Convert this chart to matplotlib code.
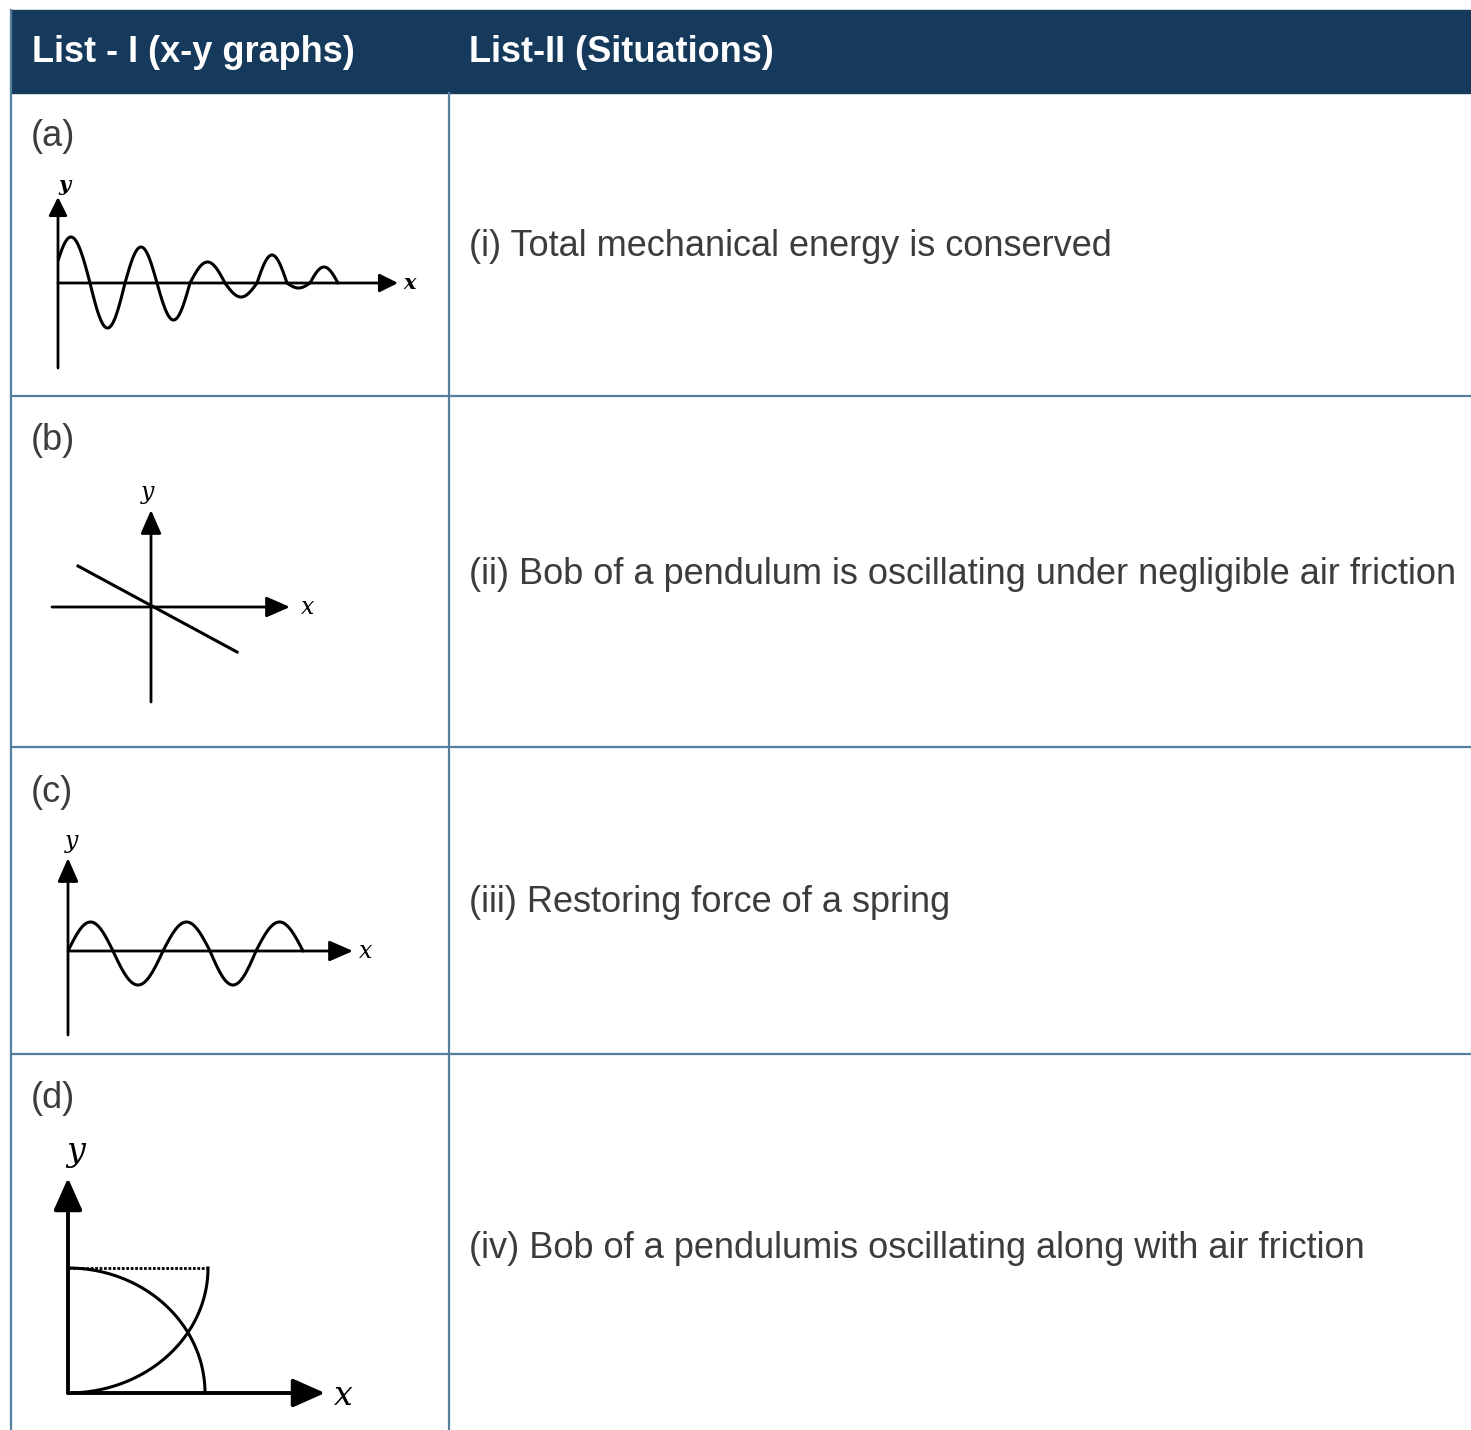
import numpy as np
import matplotlib
matplotlib.use('Agg')
import matplotlib.pyplot as plt
from matplotlib.patches import Rectangle

W, H = 1471, 1430

# table text
header_left = 'List - I (x-y graphs)'
header_right = 'List-II (Situations)'
row_labels = ['(a)', '(b)', '(c)', '(d)']
situations = [
    '(i) Total mechanical energy is conserved',
    '(ii) Bob of a pendulum is oscillating under negligible air friction',
    '(iii) Restoring force of a spring',
    '(iv) Bob of a pendulumis oscillating along with air friction',
]

# (a) damped oscillation: zero crossings and half-cycle peaks (units of 10 px)
a_cross = [-0.6, 3.2, 6.7, 9.9, 13.2, 16.7, 19.9, 22.9, 25.2, 28.0]
a_amp = [4.6, -4.5, 3.6, -3.7, 2.1, -1.4, 2.8, -0.5, 1.6]
# (b) straight line through origin
b_x = [-7.3, 8.6]
b_y = [4.1, -4.5]
# (c) undamped oscillation
c_cross = [0.0, 4.5, 9.5, 14.2, 18.8, 23.5]
c_amp = [2.9, -3.4, 2.9, -3.4, 2.9]
# (d) two quarter curves and the dotted level
d_level = 12.5
d_xfall = 13.7
d_xrise = 14.0

line_col = '#557f9f'
text_col = '#3c3c3c'
navy = '#163a5c'

fig = plt.figure(figsize=(W / 100, H / 100), dpi=100)
fig.patch.set_facecolor('white')
main = fig.add_axes([0, 0, 1, 1])
main.set_xlim(0, W)
main.set_ylim(H, 0)
main.axis('off')

# header band
main.add_patch(Rectangle((11, 10), W - 11, 83, color=navy, zorder=1))
main.text(32, 52, header_left, color='white', fontsize=26, fontweight='bold',
          family='Liberation Sans', va='center', ha='left')
main.text(469, 52, header_right, color='white', fontsize=26, fontweight='bold',
          family='Liberation Sans', va='center', ha='left')

# grid lines
row_edges = [93, 396, 747, 1054]
for y in row_edges[1:]:
    main.plot([11, W], [y, y], color=line_col, lw=1.6, zorder=2)
main.plot([11, 11], [10, H], color=line_col, lw=1.6, zorder=2)
main.plot([449, 449], [93, H], color=line_col, lw=1.6, zorder=2)

label_y = [137, 440, 792, 1099]
text_y = [247, 575, 903, 1249]
for lab, ly, sit, ty in zip(row_labels, label_y, situations, text_y):
    main.text(31, ly, lab, color=text_col, fontsize=26, family='Liberation Sans',
              va='center', ha='left')
    main.text(469, ty, sit, color=text_col, fontsize=26, family='Liberation Sans',
              va='center', ha='left')


def px_axes(left, top, right, bottom):
    ax = fig.add_axes([left / W, 1 - bottom / H, (right - left) / W, (bottom - top) / H])
    ax.axis('off')
    return ax


def draw_axes(ax, xl, yl, hx, hy, ms, lw=2.0):
    style = '-|>,head_length=%.2f,head_width=%.2f' % (hx, hy)
    props = dict(arrowstyle=style, lw=lw, color='black', shrinkA=0, shrinkB=0,
                 mutation_scale=ms)
    ax.annotate('', xy=(xl[1], 0), xytext=(xl[0], 0), arrowprops=props,
                annotation_clip=False)
    ax.annotate('', xy=(0, yl[1]), xytext=(0, yl[0]), arrowprops=props,
                annotation_clip=False)


def axis_names(ax, xpos, ypos, fs, weight='normal'):
    ax.text(xpos[0], xpos[1], 'x', fontsize=fs, style='italic', family='DejaVu Serif',
            ha='left', va='center', fontweight=weight)
    ax.text(ypos[0], ypos[1], 'y', fontsize=fs, style='italic', family='DejaVu Serif',
            ha='center', va='bottom', fontweight=weight)


def half_cycles(ax, cross, amp, xmin=None):
    for i, a in enumerate(amp):
        x = np.linspace(cross[i], cross[i + 1], 60)
        y = a * np.sin(np.pi * (x - cross[i]) / (cross[i + 1] - cross[i]))
        if xmin is not None:
            keep = x >= xmin
            x, y = x[keep], y[keep]
        ax.plot(x, y, color='black', lw=2.2, solid_capstyle='round')


# (a)
xl, yl = (0, 34.0), (-8.5, 8.6)
ax = px_axes(58, 197, 398, 368)
ax.set_xlim(*xl)
ax.set_ylim(*yl)
half_cycles(ax, a_cross, a_amp, xmin=0)
draw_axes(ax, xl, yl, 0.7, 0.35, 16)
axis_names(ax, (xl[1] + 0.5, 0), (0.6, yl[1] + 0.2), 15, 'bold')

# (b)
xl, yl = (-9.9, 13.9), (-9.5, 9.7)
ax = px_axes(52, 510, 290, 702)
ax.set_xlim(*xl)
ax.set_ylim(*yl)
ax.plot(b_x, b_y, color='black', lw=2.2)
draw_axes(ax, xl, yl, 0.8, 0.35, 18)
axis_names(ax, (xl[1] + 1.1, 0), (-0.3, yl[1] + 0.6), 17)

# (c)
xl, yl = (0, 28.5), (-8.4, 9.3)
ax = px_axes(68, 858, 353, 1035)
ax.set_xlim(*xl)
ax.set_ylim(*yl)
half_cycles(ax, c_cross, c_amp)
draw_axes(ax, xl, yl, 0.8, 0.35, 18)
axis_names(ax, (xl[1] + 0.6, 0), (0.4, yl[1] + 0.5), 17)

# (d)
xl, yl = (0, 25.7), (0, 21.5)
ax = px_axes(68, 1178, 325, 1393)
ax.set_xlim(*xl)
ax.set_ylim(*yl)
th = np.linspace(0, np.pi / 2, 100)
ax.plot(d_xfall * np.sin(th), d_level * np.cos(th), color='black', lw=2.2)
ax.plot(d_xrise * np.sin(th), d_level - d_level * np.cos(th), color='black', lw=2.2)
ax.plot([0, d_xrise], [d_level, d_level], color='black', lw=2.0, ls=(0, (1, 0.6)))
draw_axes(ax, xl, yl, 0.9, 0.4, 22, lw=2.8)
axis_names(ax, (xl[1] + 0.9, -0.3), (0.8, yl[1] + 1.0), 24)

fig.savefig('out.png', dpi=100, facecolor='white')
